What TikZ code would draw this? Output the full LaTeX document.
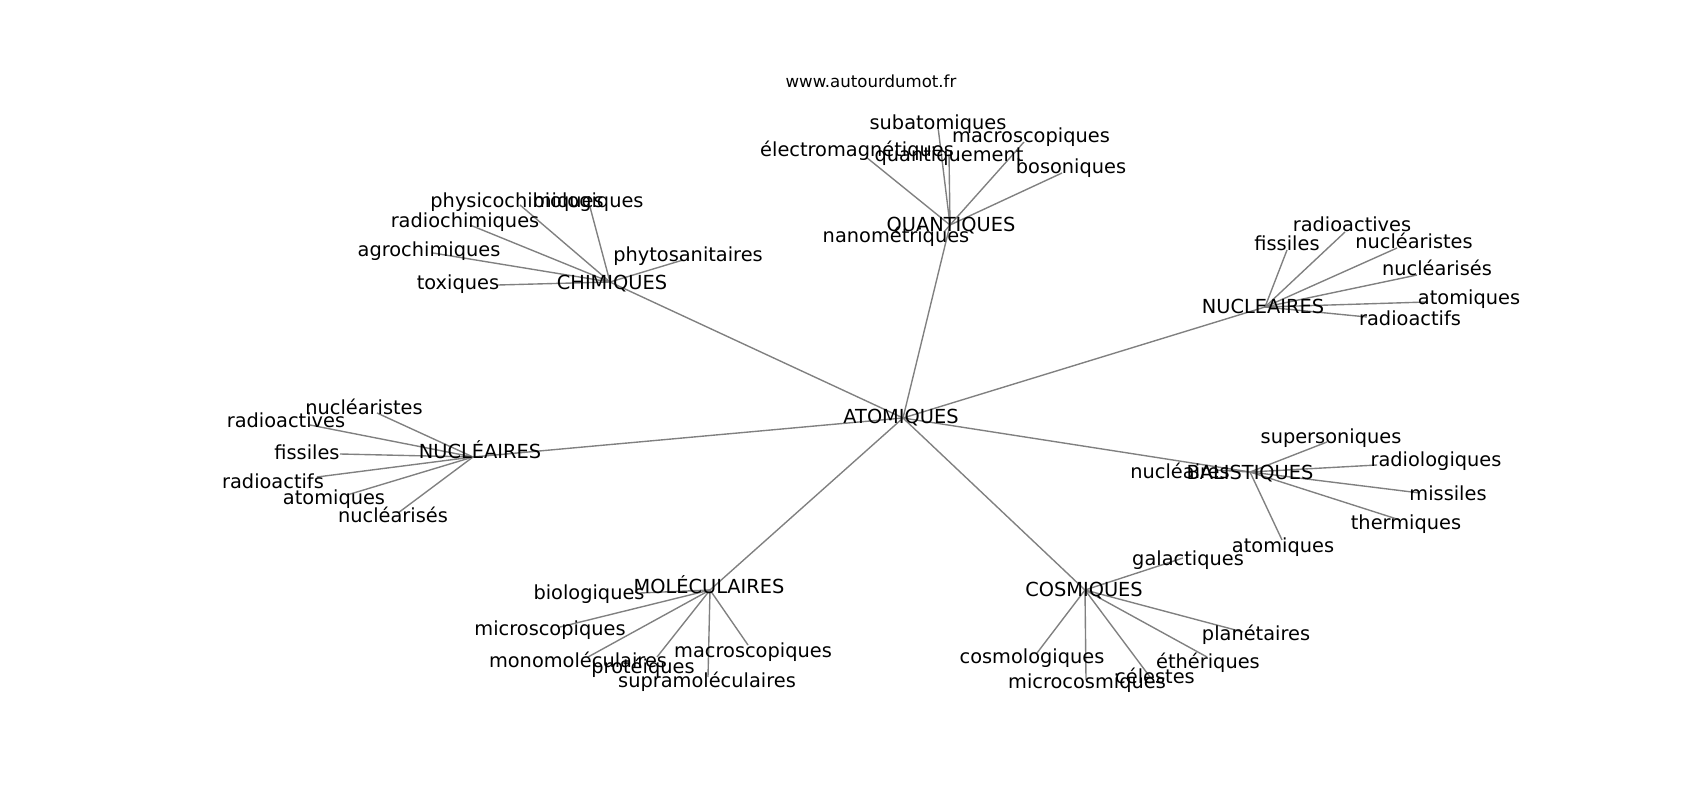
\documentclass[tikz,border=0pt]{standalone}
\usepackage{fontspec}
\setmainfont{DejaVu Sans}
\usepackage{tikz}

\begin{document}
\begin{tikzpicture}[x=0.0254cm,y=-0.0254cm,
    word/.style={anchor=base,inner sep=0pt,font=\fontsize{14}{17}\selectfont},
    link/.style={draw=gray,line width=1pt}]
            \useasboundingbox (0,0) rectangle (1700,800);
            % hubs
            \coordinate (atom) at (903,418);
            \coordinate (quant) at (950,225);
            \coordinate (chim) at (610,282);
            \coordinate (nucR) at (1265,307);
            \coordinate (nucL) at (473,457);
            \coordinate (bal) at (1250,472);
            \coordinate (mol) at (710,590);
            \coordinate (cosm) at (1085,590);
            % leaf ends
            \coordinate (q1) at (866,157);
            \coordinate (q2) at (938,127);
            \coordinate (q3) at (949,154);
            \coordinate (q4) at (1024,142);
            \coordinate (q5) at (1062,173);
            \coordinate (q6) at (944,232);
            \coordinate (c1) at (498,285);
            \coordinate (c2) at (433,253);
            \coordinate (c3) at (470,225);
            \coordinate (c4) at (520,205);
            \coordinate (c5) at (590,207);
            \coordinate (c6) at (683,260);
            \coordinate (r1) at (1345,232);
            \coordinate (r2) at (1287,250);
            \coordinate (r3) at (1397,248);
            \coordinate (r4) at (1417,275);
            \coordinate (r5) at (1427,302);
            \coordinate (r6) at (1367,317);
            \coordinate (l1) at (377,413);
            \coordinate (l2) at (310,425);
            \coordinate (l3) at (340,454);
            \coordinate (l4) at (317,477);
            \coordinate (l5) at (347,495);
            \coordinate (l6) at (398,513);
            \coordinate (b1) at (1215,470);
            \coordinate (b2) at (1327,442);
            \coordinate (b3) at (1377,465);
            \coordinate (b4) at (1420,493);
            \coordinate (b5) at (1400,520);
            \coordinate (b6) at (1282,540);
            \coordinate (m1) at (640,593);
            \coordinate (m2) at (560,627);
            \coordinate (m3) at (588,657);
            \coordinate (m4) at (657,657);
            \coordinate (m5) at (708,677);
            \coordinate (m6) at (748,645);
            \coordinate (k1) at (1183,558);
            \coordinate (k2) at (1243,632);
            \coordinate (k3) at (1207,657);
            \coordinate (k4) at (1150,677);
            \coordinate (k5) at (1086,680);
            \coordinate (k6) at (1037,653);
            % edges
            \draw[link] (atom) -- (quant);
            \draw[link] (atom) -- (chim);
            \draw[link] (atom) -- (nucR);
            \draw[link] (atom) -- (nucL);
            \draw[link] (atom) -- (bal);
            \draw[link] (atom) -- (mol);
            \draw[link] (atom) -- (cosm);
            \draw[link] (quant) -- (q1);
            \draw[link] (quant) -- (q2);
            \draw[link] (quant) -- (q3);
            \draw[link] (quant) -- (q4);
            \draw[link] (quant) -- (q5);
            \draw[link] (quant) -- (q6);
            \draw[link] (chim) -- (c1);
            \draw[link] (chim) -- (c2);
            \draw[link] (chim) -- (c3);
            \draw[link] (chim) -- (c4);
            \draw[link] (chim) -- (c5);
            \draw[link] (chim) -- (c6);
            \draw[link] (nucR) -- (r1);
            \draw[link] (nucR) -- (r2);
            \draw[link] (nucR) -- (r3);
            \draw[link] (nucR) -- (r4);
            \draw[link] (nucR) -- (r5);
            \draw[link] (nucR) -- (r6);
            \draw[link] (nucL) -- (l1);
            \draw[link] (nucL) -- (l2);
            \draw[link] (nucL) -- (l3);
            \draw[link] (nucL) -- (l4);
            \draw[link] (nucL) -- (l5);
            \draw[link] (nucL) -- (l6);
            \draw[link] (bal) -- (b1);
            \draw[link] (bal) -- (b2);
            \draw[link] (bal) -- (b3);
            \draw[link] (bal) -- (b4);
            \draw[link] (bal) -- (b5);
            \draw[link] (bal) -- (b6);
            \draw[link] (mol) -- (m1);
            \draw[link] (mol) -- (m2);
            \draw[link] (mol) -- (m3);
            \draw[link] (mol) -- (m4);
            \draw[link] (mol) -- (m5);
            \draw[link] (mol) -- (m6);
            \draw[link] (cosm) -- (k1);
            \draw[link] (cosm) -- (k2);
            \draw[link] (cosm) -- (k3);
            \draw[link] (cosm) -- (k4);
            \draw[link] (cosm) -- (k5);
            \draw[link] (cosm) -- (k6);
            % labels
            \node[anchor=base,inner sep=0pt,font=\fontsize{12}{14}\selectfont] (site) at (871,88) {www.autourdumot.fr};
            \node[word] (atomT) at (901,423) {ATOMIQUES};
            \node[word] (quantT) at (951,232) {QUANTIQUES};
            \node[word] (chimT) at (612,290) {CHIMIQUES};
            \node[word] (nucRT) at (1263,313) {NUCLEAIRES};
            \node[word] (nucLT) at (480,458) {NUCLÉAIRES};
            \node[word] (balT) at (1250,479) {BALISTIQUES};
            \node[word] (molT) at (709,593) {MOLÉCULAIRES};
            \node[word] (cosmT) at (1084,596) {COSMIQUES};
            \node[word] (q1T) at (857,157) {électromagnétiques};
            \node[word] (q2T) at (938,130) {subatomiques};
            \node[word] (q3T) at (949,162) {quantiquement};
            \node[word] (q4T) at (1031,143) {macroscopiques};
            \node[word] (q5T) at (1071,174) {bosoniques};
            \node[word] (q6T) at (896,243) {nanométriques};
            \node[word] (c1T) at (458,290) {toxiques};
            \node[word] (c2T) at (429,257) {agrochimiques};
            \node[word] (c3T) at (465,228) {radiochimiques};
            \node[word] (c4T) at (517,208) {physicochimiques};
            \node[word] (c5T) at (588,208) {biologiques};
            \node[word] (c6T) at (688,262) {phytosanitaires};
            \node[word] (r1T) at (1352,232) {radioactives};
            \node[word] (r2T) at (1287,251) {fissiles};
            \node[word] (r3T) at (1414,248) {nucléaristes};
            \node[word] (r4T) at (1437,276) {nucléarisés};
            \node[word] (r5T) at (1469,304) {atomiques};
            \node[word] (r6T) at (1410,325) {radioactifs};
            \node[word] (l1T) at (364,414) {nucléaristes};
            \node[word] (l2T) at (286,427) {radioactives};
            \node[word] (l3T) at (307,459) {fissiles};
            \node[word] (l4T) at (273,488) {radioactifs};
            \node[word] (l5T) at (334,504) {atomiques};
            \node[word] (l6T) at (393,522) {nucléarisés};
            \node[word] (b1T) at (1180,478) {nucléaires};
            \node[word] (b2T) at (1331,443) {supersoniques};
            \node[word] (b3T) at (1436,466) {radiologiques};
            \node[word] (b4T) at (1448,500) {missiles};
            \node[word] (b5T) at (1406,529) {thermiques};
            \node[word] (b6T) at (1283,552) {atomiques};
            \node[word] (m1T) at (589,599) {biologiques};
            \node[word] (m2T) at (550,635) {microscopiques};
            \node[word] (m3T) at (578,667) {monomoléculaires};
            \node[word] (m4T) at (643,673) {protéiques};
            \node[word] (m5T) at (707,687) {supramoléculaires};
            \node[word] (m6T) at (753,657) {macroscopiques};
            \node[word] (k1T) at (1188,565) {galactiques};
            \node[word] (k2T) at (1256,640) {planétaires};
            \node[word] (k3T) at (1208,668) {éthériques};
            \node[word] (k4T) at (1155,683) {célestes};
            \node[word] (k5T) at (1087,688) {microcosmiques};
            \node[word] (k6T) at (1032,663) {cosmologiques};
        \end{tikzpicture}
\end{document}
